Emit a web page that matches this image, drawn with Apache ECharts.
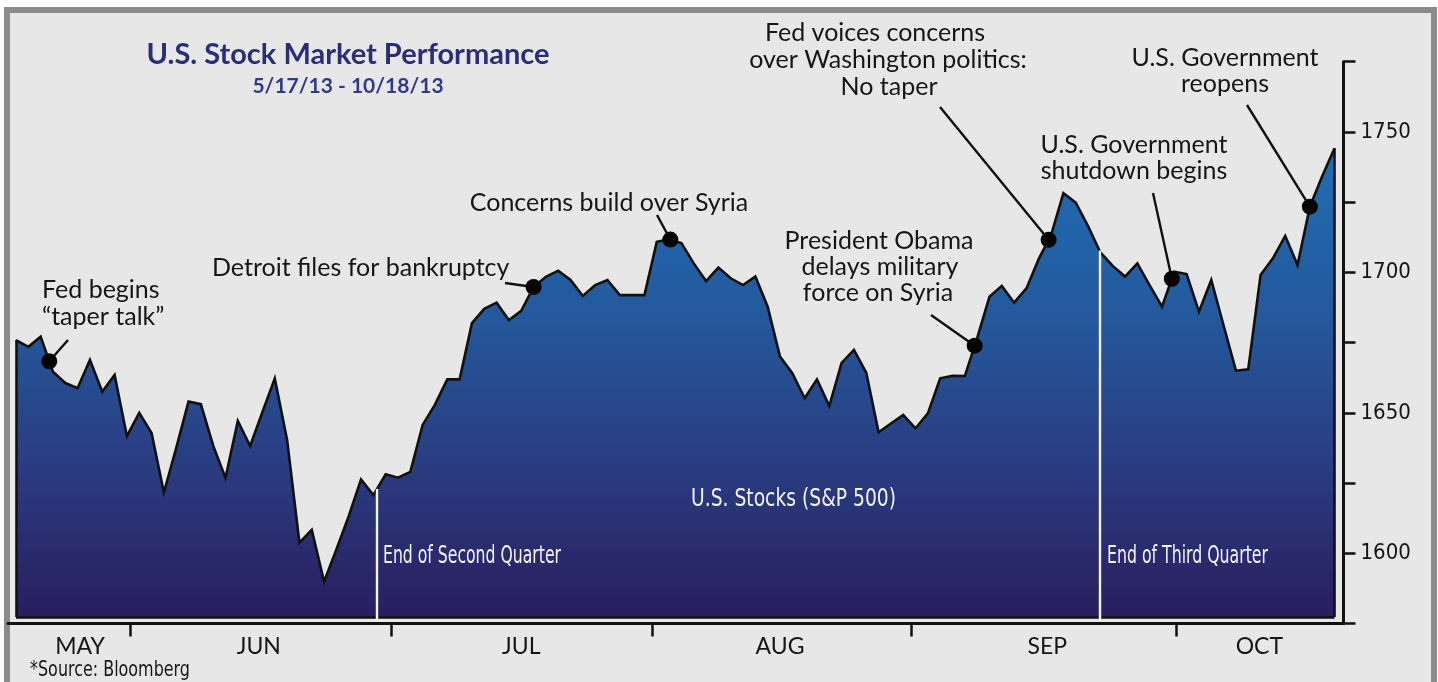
<!DOCTYPE html>
<html>
<head>
<meta charset="utf-8">
<script src="https://cdn.jsdelivr.net/npm/echarts@6/dist/echarts.min.js"></script>
<style>
html,body{margin:0;padding:0;background:#ffffff;width:1438px;height:682px;overflow:hidden}
#frame{position:absolute;left:4px;top:7px;width:1433px;height:700px;box-sizing:border-box;border:6px solid #8b8b8b;background:#e7e7e7}
#chart{position:absolute;left:0;top:0;width:1438px;height:682px}
</style>
</head>
<body>
<div id="frame"></div>
<div id="chart"></div>
<script>
// ---------------- data ----------------
const tradingDays = [
  '5/17','5/20','5/21','5/22','5/23','5/24','5/28','5/29','5/30','5/31',
  '6/3','6/4','6/5','6/6','6/7','6/10','6/11','6/12','6/13','6/14','6/17','6/18','6/19','6/20','6/21','6/24','6/25','6/26','6/27','6/28',
  '7/1','7/2','7/3','7/5','7/8','7/9','7/10','7/11','7/12','7/15','7/16','7/17','7/18','7/19','7/22','7/23','7/24','7/25','7/26','7/29','7/30','7/31',
  '8/1','8/2','8/5','8/6','8/7','8/8','8/9','8/12','8/13','8/14','8/15','8/16','8/19','8/20','8/21','8/22','8/23','8/26','8/27','8/28','8/29','8/30',
  '9/3','9/4','9/5','9/6','9/9','9/10','9/11','9/12','9/13','9/16','9/17','9/18','9/19','9/20','9/23','9/24','9/25','9/26','9/27','9/30',
  '10/1','10/2','10/3','10/4','10/7','10/8','10/9','10/10','10/11','10/14','10/15','10/16','10/17','10/18'
];
const sp500 = [
  1675.9,1673.5,1677.1,1664.6,1660.6,1658.8,1668.8,1657.5,1663.5,1641.7,
  1650.0,1642.8,1621.6,1637.4,1654.0,1653.1,1638.3,1626.8,1647.1,1638.2,
  1650.3,1662.2,1640.3,1603.8,1608.3,1589.9,1601.4,1613.2,1626.3,1620.7,
  1628.1,1626.9,1629.0,1645.7,1652.9,1661.9,1661.9,1681.9,1687.0,1689.2,
  1683.0,1686.3,1694.8,1698.4,1700.6,1697.3,1691.6,1695.5,1697.3,1691.9,
  1691.9,1691.9,1710.9,1711.8,1710.4,1703.2,1696.9,1701.7,1697.9,1695.5,
  1698.5,1687.8,1670.0,1664.1,1655.2,1661.9,1652.4,1667.8,1672.4,1664.3,
  1643.1,1646.2,1649.2,1644.5,1649.8,1662.3,1663.2,1663.1,1676.6,1691.3,
  1695.2,1689.2,1694.3,1704.8,1713.3,1728.2,1724.8,1716.5,1707.1,1702.3,
  1698.5,1703.2,1695.4,1687.8,1700.2,1699.4,1686.0,1697.3,1681.1,1665.0,
  1665.5,1699.1,1705.0,1713.0,1702.6,1723.4,1734.2,1744.2
];
const monthNames   = ['MAY','JUN','JUL','AUG','SEP','OCT'];
const monthLabelAt = [5.2, 19.7, 41.0, 62.0, 83.7, 100.9];   // trading-day position of month label
const monthTickAt  = [9.25, 30.43, 51.62, 72.63, 94.14];    // trading-day position of month divider
const yTickLabels  = [1600, 1650, 1700, 1750];
const quarterEndAt = [29.3, 87.93];
const quarterNames = ['End of Second Quarter', 'End of Third Quarter'];
const eventAt      = [2.7, 42, 53.1, 77.8, 83.8, 93.8, 105];
const eventText    = [
  ['Fed begins', '\u201Ctaper talk\u201D'],
  ['Detroit files for bankruptcy'],
  ['Concerns build over Syria'],
  ['President Obama', 'delays military', 'force on Syria'],
  ['Fed voices concerns', 'over Washington politics:', 'No taper'],
  ['U.S. Government', 'shutdown begins'],
  ['U.S. Government', 'reopens']
];

// ---------------- layout / style ----------------
const AREA_BASE = 1577.3;
const Y_MIN = 1575, Y_MAX = 1775;
const FONT = 'Lato, "Open Sans", sans-serif';
const COND = '"DejaVu Sans Condensed", "Liberation Sans Narrow", sans-serif';
// label layout (pixel) per line: [x, y], alignment, connector end
const eventLayout = [
  {align:'left',   pos:[[42,290],[42,317]],                 conn:[68,340]},
  {align:'left',   pos:[[212,268]],                         conn:[505,283]},
  {align:'center', pos:[[609,203]],                         conn:[657,215]},
  {align:'center', pos:[[879,241],[880,267],[878,293]],     conn:[931,315]},
  {align:'center', pos:[[875,33],[888,60],[889,87]],        conn:[940,107]},
  {align:'center', pos:[[1134,145],[1134,171]],             conn:[1153,193]},
  {align:'center', pos:[[1225,58],[1225,84]],               conn:[1247,105]}
];

const measureCtx = document.createElement('canvas').getContext('2d');
function condensedScale(text, font, targetWidth) {
  measureCtx.font = font;
  const w = measureCtx.measureText(text).width;
  return w > 0 ? targetWidth / w : 1;
}

function valueAt(x) {
  const i = Math.floor(x), f = x - i;
  if (i >= sp500.length - 1) return sp500[sp500.length - 1];
  return sp500[i] + (sp500[i + 1] - sp500[i]) * f;
}

const seriesData = sp500.map((v, i) => ({ value: [i, v], name: tradingDays[i] }));
const last = sp500.length - 1;

const outline = { color: '#111', width: 2.6, type: 'solid' };
const markLines = [
  [{ coord: [0, sp500[0]], lineStyle: outline }, { coord: [0, AREA_BASE] }],
  [{ coord: [last, sp500[last]], lineStyle: outline }, { coord: [last, AREA_BASE] }],
  [{ coord: [0, AREA_BASE], lineStyle: outline }, { coord: [last, AREA_BASE] }]
];
quarterEndAt.forEach(q => {
  markLines.push([{ coord: [q, valueAt(q)], lineStyle: { color: '#f4f4f8', width: 2.4, type: 'solid' } }, { coord: [q, 1575.9] }]);
});
eventAt.forEach((e, k) => {
  const c = eventLayout[k].conn;
  markLines.push([{ coord: [e, valueAt(e)], lineStyle: { color: '#111', width: 2.4, type: 'solid' } }, { x: c[0], y: c[1] }]);
});

const graphics = [];
eventText.forEach((lines, k) => {
  const L = eventLayout[k];
  lines.forEach((t, j) => {
    graphics.push({
      type: 'text', x: L.pos[j][0], y: L.pos[j][1], silent: true, z: 100,
      style: { text: t, fill: '#161616', font: '25px ' + FONT, textAlign: L.align, textVerticalAlign: 'middle' }
    });
  });
});

function condText(text, x, y, size, width, fill, align) {
  const font = size + 'px ' + COND;
  return { type: 'text', x: x, y: y, silent: true, z: 100, scaleX: condensedScale(text, font, width),
    style: { text: text, x: 0, y: 0, fill: fill, font: font, textAlign: align, textVerticalAlign: 'middle' } };
}

const chart = echarts.init(document.getElementById('chart'), null, { renderer: 'canvas' });
chart.setOption({
  animation: false,
  backgroundColor: 'transparent',
  title: {
    text: 'U.S. Stock Market Performance',
    subtext: '5/17/13 - 10/18/13',
    left: 348, top: 40, textAlign: 'center', itemGap: 7, padding: 0,
    textStyle: { fontFamily: FONT, fontWeight: 'bold', fontSize: 29, color: '#2a2f75' },
    subtextStyle: { fontFamily: FONT, fontWeight: 'bold', fontSize: 21, color: '#2e3a8a' }
  },
  grid: { left: 8, right: 94.5, top: 61.7, bottom: 58.5, containLabel: false },
  xAxis: {
    type: 'value', min: -0.65, max: 107.73,
    splitLine: { show: false },
    axisLine: { show: true, onZero: false, lineStyle: { color: '#111', width: 3 } },
    axisTick: { show: true, customValues: monthTickAt, length: 13, lineStyle: { color: '#111', width: 2.5 } },
    axisLabel: {
      customValues: monthLabelAt, margin: 12, color: '#161616', fontFamily: FONT, fontSize: 23,
      formatter: (v) => { const k = monthLabelAt.findIndex(m => Math.abs(m - v) < 1e-6); return k >= 0 ? monthNames[k] : ''; }
    }
  },
  yAxis: {
    type: 'value', position: 'right', min: Y_MIN, max: Y_MAX, interval: 25,
    splitLine: { show: false },
    axisLine: { show: true, onZero: false, lineStyle: { color: '#111', width: 3 } },
    axisTick: { show: true, length: 12, lineStyle: { color: '#111', width: 2.5 } },
    axisLabel: {
      margin: 17, color: '#161616', fontFamily: COND, fontSize: 22,
      formatter: (v) => yTickLabels.indexOf(v) >= 0 ? String(v) : ''
    }
  },
  series: [
    {
      type: 'line', data: seriesData, symbol: 'none', z: 2,
      lineStyle: { color: '#111', width: 2.6, join: 'miter' },
      areaStyle: {
        origin: AREA_BASE, opacity: 1,
        color: new echarts.graphic.LinearGradient(0, 0, 0, 1, [
          { offset: 0, color: '#1f6db3' },
          { offset: 0.35, color: '#24599d' },
          { offset: 0.68, color: '#2a3c81' },
          { offset: 1, color: '#291e5e' }
        ])
      },
      markLine: { silent: true, symbol: 'none', animation: false, label: { show: false }, data: markLines }
    },
    {
      type: 'scatter', z: 5, symbol: 'circle', symbolSize: 16,
      itemStyle: { color: '#050505', opacity: 1 },
      data: eventAt.map(e => [e, valueAt(e)])
    }
  ],
  graphic: graphics.concat([
    condText('U.S. Stocks (S&P 500)', 793.5, 499, 25, 205, '#f2f2f7', 'center'),
    condText(quarterNames[0], 383, 557, 24, 178, '#f2f2f7', 'left'),
    condText(quarterNames[1], 1107, 557, 24, 161, '#f2f2f7', 'left'),
    condText('*Source: Bloomberg', 30, 671, 21, 160, '#161616', 'left')
  ])
});
</script>
</body>
</html>
